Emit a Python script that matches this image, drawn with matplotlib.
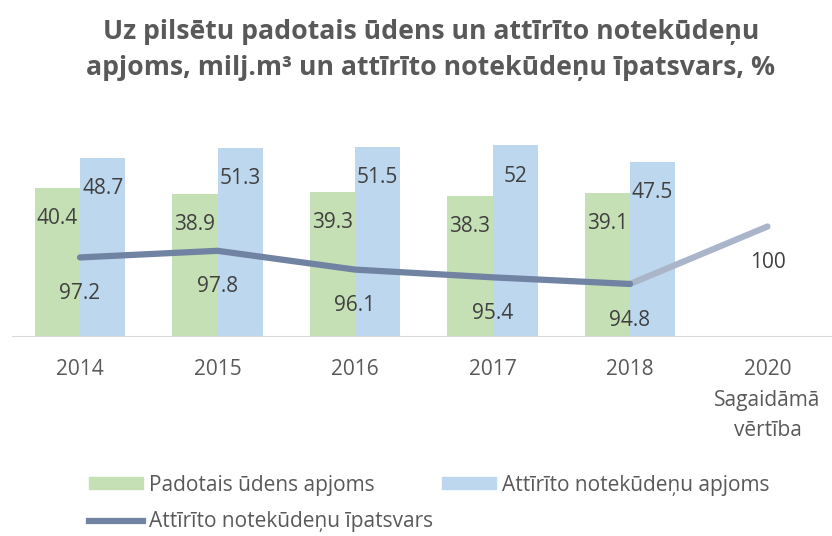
import matplotlib
matplotlib.use("Agg")
import matplotlib.pyplot as plt
from matplotlib.lines import Line2D
from matplotlib.patches import Patch

plt.rcParams['font.family'] = ['Open Sans', 'DejaVu Sans']

# Data
years = ["2014", "2015", "2016", "2017", "2018", "2020\nSagaidāmā\nvērtība"]
supplied_water = [40.4, 38.9, 39.3, 38.3, 39.1]          # milj. m³
treated_wastewater = [48.7, 51.3, 51.5, 52.0, 47.5]      # milj. m³
treated_share = [97.2, 97.8, 96.1, 95.4, 94.8]           # %
target_share = 100.0                                      # % (2020)

title = "Uz pilsētu padotais ūdens un attīrīto notekūdeņu\napjoms, milj.m³ un attīrīto notekūdeņu īpatsvars, %"
legend_labels = ["Padotais ūdens apjoms", "Attīrīto notekūdeņu apjoms",
                 "Attīrīto notekūdeņu īpatsvars"]

GREEN = "#C5E0B4"
BLUE = "#BDD7EE"
LINE_DARK = "#7183A3"
LINE_LIGHT = "#AAB5CA"
TEXT = "#595959"
LABEL = "#404040"
FS = 15

W, H = 832, 536
fig = plt.figure(figsize=(W / 100, H / 100), dpi=100)

left_px, right_px, top_px, bottom_px = 12, 832, 116, 337
ax = fig.add_axes([left_px / W, 1 - bottom_px / H,
                   (right_px - left_px) / W, (bottom_px - top_px) / H])
step = 137.5
ax.set_xlim(-(80 - left_px) / step, (right_px - 80) / step)
ax.set_ylim(0, 60)

n = len(supplied_water)
xs = list(range(n))
bw = 0.33
ax.bar([x - bw / 2 for x in xs], supplied_water, width=bw, color=GREEN, zorder=2)
ax.bar([x + bw / 2 for x in xs], treated_wastewater, width=bw, color=BLUE, zorder=2)

for x, v in zip(xs, supplied_water):
    ax.annotate(f"{v:g}", (x - bw / 2, v), xytext=(0, -22), textcoords="offset points",
                ha="center", va="center", fontsize=FS, color=LABEL, zorder=5)
for x, v in zip(xs, treated_wastewater):
    ax.annotate(f"{v:g}", (x + bw / 2, v), xytext=(0, -22), textcoords="offset points",
                ha="center", va="center", fontsize=FS, color=LABEL, zorder=5)

for s in ax.spines.values():
    s.set_visible(False)
ax.axhline(0, color="#D9D9D9", lw=1.5, zorder=3)
ax.set_yticks([])
ax.set_xticks(range(len(years)))
ax.set_xticklabels(years, fontsize=FS, color=TEXT, linespacing=1.6)
ax.tick_params(axis="x", length=0, pad=16)

ax2 = ax.twinx()
ax2.set_ylim(90, 110)
ax2.set_yticks([])
for s in ax2.spines.values():
    s.set_visible(False)
ax2.plot([n - 1, n], [treated_share[-1], target_share], color=LINE_LIGHT, lw=4.5,
         solid_capstyle="round", zorder=3)
ax2.plot(xs, treated_share, color=LINE_DARK, lw=4.5, solid_capstyle="round",
         solid_joinstyle="round", zorder=4)
for x, v in zip(xs + [n], treated_share + [target_share]):
    ax2.annotate(f"{v:g}", (x, v), xytext=(0, -26), textcoords="offset points",
                 ha="center", va="center", fontsize=FS, color=LABEL, zorder=5)

fig.text(0.518, 1 - 50 / H, title, ha="center", va="center", fontsize=19.2,
         fontweight="bold", color=TEXT, linespacing=1.5)

handles = [Patch(color=GREEN), Line2D([], [], color=LINE_DARK, lw=4.5),
           Patch(color=BLUE)]
labels = [legend_labels[0], legend_labels[2], legend_labels[1]]
fig.legend(handles, labels, ncol=2, loc="upper left",
           bbox_to_anchor=(70 / W, 1 - 456 / H), frameon=False,
           fontsize=FS, labelcolor=TEXT, handlelength=2.6, handleheight=0.5,
           handletextpad=0.3, columnspacing=0.4, labelspacing=0.75)

fig.savefig("out.png", dpi=100)
